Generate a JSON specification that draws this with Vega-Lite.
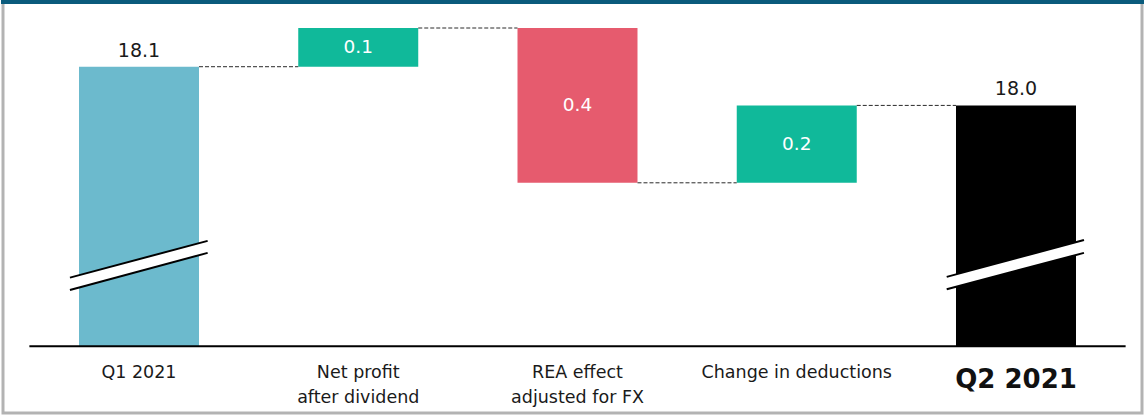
{
  "$schema": "https://vega.github.io/schema/vega-lite/v6.json",
  "width": 1139,
  "height": 411,
  "padding": {"left": 3, "right": 3, "top": 2, "bottom": 2},
  "autosize": "none",
  "background": "white",
  "config": {"view": {"stroke": null}},
  "datasets": {
    "bars": [
      {"i": 0, "step": "Q1 2021", "kind": "start", "start": null, "end": 18.1, "txt": "18.1", "cat": ["Q1 2021"]},
      {"i": 1, "step": "Net profit after dividend", "kind": "increase", "start": 18.1, "end": 18.2, "txt": "0.1", "cat": ["Net profit", "after dividend"]},
      {"i": 2, "step": "REA effect adjusted for FX", "kind": "decrease", "start": 18.2, "end": 17.8, "txt": "0.4", "cat": ["REA effect", "adjusted for FX"]},
      {"i": 3, "step": "Change in deductions", "kind": "increase", "start": 17.8, "end": 18.0, "txt": "0.2", "cat": ["Change in deductions"]},
      {"i": 4, "step": "Q2 2021", "kind": "end", "start": null, "end": 18.0, "txt": "18.0", "cat": ["Q2 2021"]}
    ],
    "connectors": [
      {"from": 0, "to": 1, "level": 18.1},
      {"from": 1, "to": 2, "level": 18.2},
      {"from": 2, "to": 3, "level": 17.8},
      {"from": 3, "to": 4, "level": 18.0}
    ],
    "breaks": [
      {"grp": "Q1", "bx": -0.315, "hi": 17.555, "lo": 17.523},
      {"grp": "Q1", "bx": 0.313, "hi": 17.650, "lo": 17.619},
      {"grp": "Q2", "bx": 3.684, "hi": 17.557, "lo": 17.525},
      {"grp": "Q2", "bx": 4.310, "hi": 17.652, "lo": 17.619}
    ]
  },
  "encoding": {
    "x": {"type": "quantitative", "scale": {"domain": [-0.6203, 4.5747], "nice": false, "zero": false}, "axis": null},
    "y": {"type": "quantitative", "scale": {"domain": [17.2052, 18.2672], "nice": false, "zero": false}, "axis": null}
  },
  "layer": [
    {
      "data": {"name": "bars"},
      "transform": [{"filter": "datum.kind === 'start' || datum.kind === 'end'"}],
      "mark": {"type": "rect", "xOffset": -60, "x2Offset": 60},
      "encoding": {
        "x": {"field": "i", "type": "quantitative"},
        "x2": {"field": "i"},
        "y": {"field": "end", "type": "quantitative"},
        "y2": {"datum": 17.378},
        "color": {"field": "kind", "type": "nominal", "scale": {"domain": ["start", "increase", "decrease", "end"], "range": ["#6cbacd", "#10b99a", "#e65b6e", "#000000"]}, "legend": null}
      }
    },
    {
      "data": {"name": "bars"},
      "transform": [{"filter": "datum.kind === 'increase' || datum.kind === 'decrease'"}],
      "mark": {"type": "rect", "xOffset": -60, "x2Offset": 60},
      "encoding": {
        "x": {"field": "i", "type": "quantitative"},
        "x2": {"field": "i"},
        "y": {"field": "start", "type": "quantitative"},
        "y2": {"field": "end"},
        "color": {"field": "kind", "type": "nominal", "legend": null}
      }
    },
    {
      "data": {"name": "connectors"},
      "mark": {"type": "rule", "xOffset": 60, "x2Offset": -60, "strokeDash": [4, 2], "stroke": "#2a2a2a", "strokeWidth": 1},
      "encoding": {
        "x": {"field": "from", "type": "quantitative"},
        "x2": {"field": "to"},
        "y": {"field": "level", "type": "quantitative"}
      }
    },
    {
      "data": {"name": "breaks"},
      "mark": {"type": "area", "fill": "white", "interpolate": "linear"},
      "encoding": {
        "x": {"field": "bx", "type": "quantitative"},
        "y": {"field": "hi", "type": "quantitative"},
        "y2": {"field": "lo"},
        "detail": {"field": "grp"}
      }
    },
    {
      "data": {"name": "breaks"},
      "mark": {"type": "line", "stroke": "#000000", "strokeWidth": 2},
      "encoding": {
        "x": {"field": "bx", "type": "quantitative"},
        "y": {"field": "hi", "type": "quantitative"},
        "detail": {"field": "grp"}
      }
    },
    {
      "data": {"name": "breaks"},
      "mark": {"type": "line", "stroke": "#000000", "strokeWidth": 2},
      "encoding": {
        "x": {"field": "bx", "type": "quantitative"},
        "y": {"field": "lo", "type": "quantitative"},
        "detail": {"field": "grp"}
      }
    },
    {
      "data": {"values": [{}]},
      "mark": {"type": "rule", "stroke": "#000000", "strokeWidth": 2},
      "encoding": {
        "x": {"datum": -0.5},
        "x2": {"datum": 4.5},
        "y": {"datum": 17.378}
      }
    },
    {
      "data": {"name": "bars"},
      "transform": [{"filter": "datum.kind === 'start' || datum.kind === 'end'"}],
      "mark": {"type": "text", "font": "DejaVu Sans", "fontSize": 19, "color": "#1a1a1a", "baseline": "alphabetic", "align": "center", "dy": -10},
      "encoding": {
        "x": {"field": "i", "type": "quantitative"},
        "y": {"field": "end", "type": "quantitative"},
        "text": {"field": "txt"}
      }
    },
    {
      "data": {"name": "bars"},
      "transform": [
        {"filter": "datum.kind === 'increase' || datum.kind === 'decrease'"},
        {"fold": ["start", "end"], "as": ["k", "v"]},
        {"aggregate": [{"op": "mean", "field": "v", "as": "mid"}], "groupby": ["i", "txt"]}
      ],
      "mark": {"type": "text", "font": "DejaVu Sans", "fontSize": 18.5, "color": "#ffffff", "baseline": "middle", "align": "center"},
      "encoding": {
        "x": {"field": "i", "type": "quantitative"},
        "y": {"field": "mid", "type": "quantitative"},
        "text": {"field": "txt"}
      }
    },
    {
      "data": {"name": "bars"},
      "transform": [{"filter": "datum.i < 4"}],
      "mark": {"type": "text", "font": "DejaVu Sans", "fontSize": 17.5, "color": "#1a1a1a", "baseline": "top", "align": "center", "lineHeight": 25},
      "encoding": {
        "x": {"field": "i", "type": "quantitative"},
        "y": {"datum": 17.3331},
        "text": {"field": "cat"}
      }
    },
    {
      "data": {"name": "bars"},
      "transform": [{"filter": "datum.i === 4"}],
      "mark": {"type": "text", "font": "DejaVu Sans", "fontSize": 26, "fontWeight": "bold", "color": "#111111", "baseline": "alphabetic", "align": "center"},
      "encoding": {
        "x": {"field": "i", "type": "quantitative"},
        "y": {"datum": 17.2698},
        "text": {"field": "step"}
      }
    },
    {
      "data": {"values": [{}]},
      "mark": {"type": "rect", "fill": null, "stroke": "#b3b3b3", "strokeWidth": 3},
      "encoding": {
        "x": {"datum": -0.6203},
        "x2": {"datum": 4.5747},
        "y": {"datum": 17.2052},
        "y2": {"datum": 18.2672}
      }
    },
    {
      "data": {"values": [{}]},
      "mark": {"type": "rule", "stroke": "#0a5b7c", "strokeWidth": 4, "strokeCap": "square"},
      "encoding": {
        "x": {"datum": -0.6203},
        "x2": {"datum": 4.5747},
        "y": {"datum": 18.2672}
      }
    }
  ]
}
